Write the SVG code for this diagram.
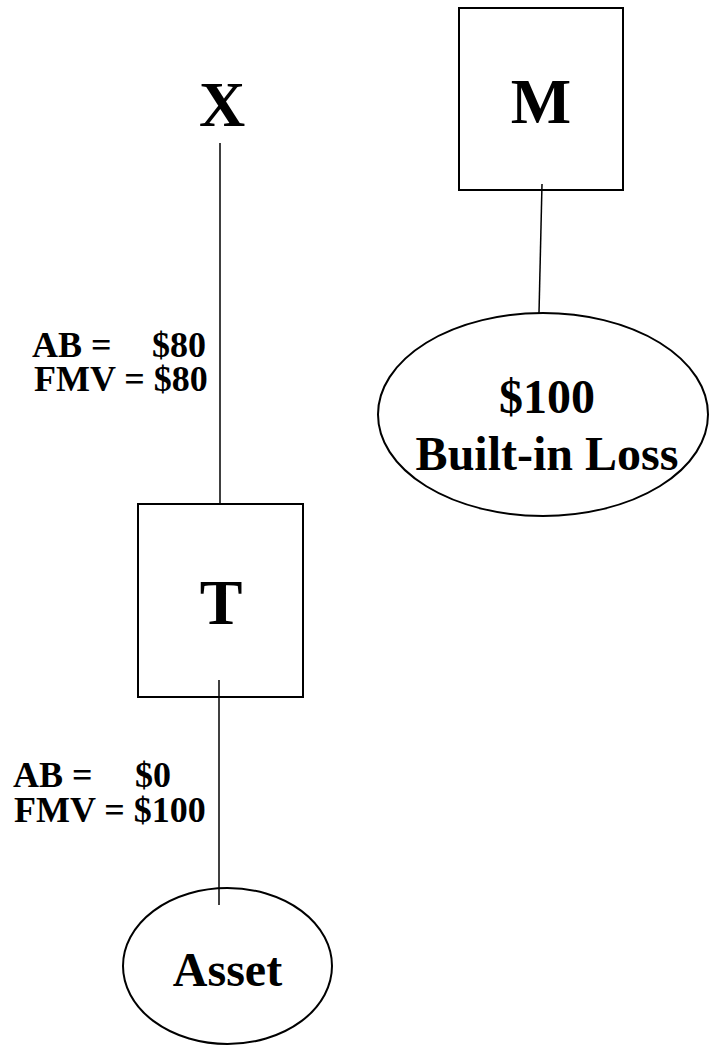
<svg xmlns="http://www.w3.org/2000/svg" width="709" height="1048" viewBox="0 0 709 1048">
<style>
.shape{fill:#fff;stroke:#000;stroke-width:2}
.conn{stroke:#000;stroke-width:1.5;fill:none}
.t{font-family:"Liberation Serif","Times New Roman",serif;font-weight:bold;fill:#000}
.big{font-size:64px;text-anchor:middle}
.mid{font-size:48px;text-anchor:middle}
.lbl{font-size:36px}
</style>
<rect width="709" height="1048" fill="#fff"/>
<g id="node-X">
<text class="t big" x="222" y="126">X</text>
</g>
<g id="node-M">
<rect class="shape" x="459" y="8" width="164" height="182"/>
<text class="t big" x="541" y="123">M</text>
</g>
<g id="node-loss">
<ellipse class="shape" cx="543" cy="414.5" rx="165" ry="101.5"/>
<text class="t mid" x="547" y="413">$100</text>
<text class="t mid" x="547" y="470">Built-in Loss</text>
</g>
<g id="node-T">
<rect class="shape" x="138" y="504" width="165" height="193"/>
<text class="t big" x="221" y="624">T</text>
</g>
<g id="node-Asset">
<ellipse class="shape" cx="227.5" cy="966" rx="104.5" ry="78"/>
<text class="t mid" x="227.5" y="986">Asset</text>
</g>
<g id="connectors">
<line class="conn" x1="220" y1="143" x2="220" y2="504"/>
<line class="conn" x1="542" y1="184" x2="539" y2="313"/>
<line class="conn" x1="219" y1="680" x2="219" y2="905"/>
</g>
<g id="labels">
<text class="t lbl" y="357"><tspan x="32">AB =</tspan><tspan x="152">$80</tspan></text>
<text class="t lbl" x="34" y="391">FMV = $80</text>
<text class="t lbl" y="787"><tspan x="13">AB =</tspan><tspan x="135">$0</tspan></text>
<text class="t lbl" x="14" y="822">FMV = $100</text>
</g>
</svg>
